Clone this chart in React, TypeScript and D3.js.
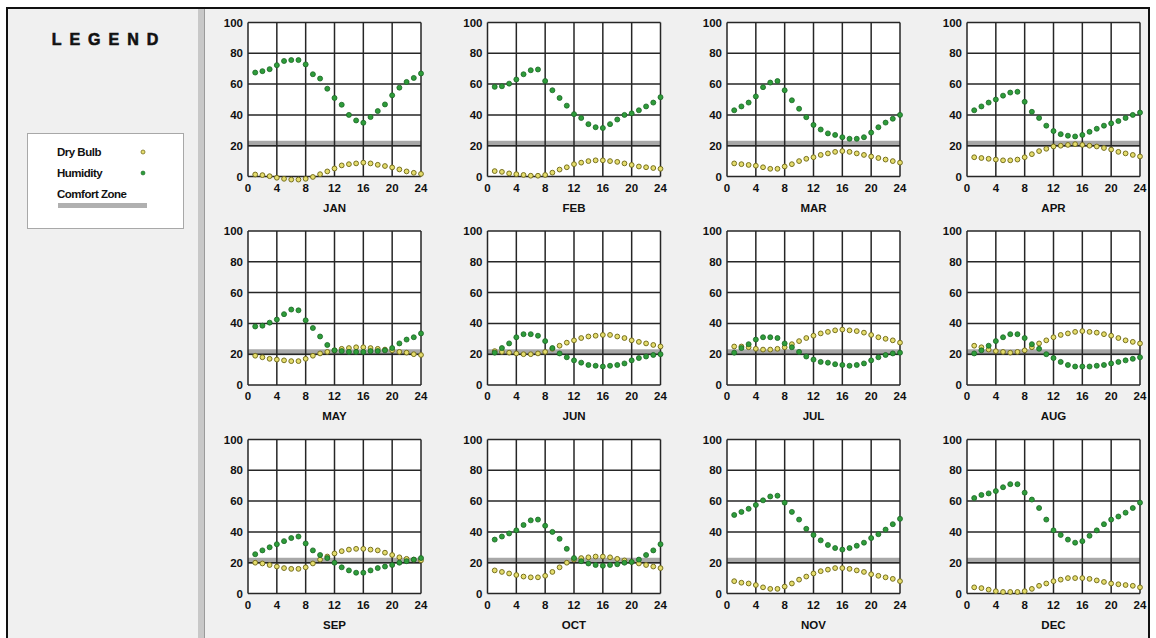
import React from 'react';
import * as d3 from 'd3';

const months = ['JAN', 'FEB', 'MAR', 'APR', 'MAY', 'JUN', 'JUL', 'AUG', 'SEP', 'OCT', 'NOV', 'DEC'];
const hours = [1, 2, 3, 4, 5, 6, 7, 8, 9, 10, 11, 12, 13, 14, 15, 16, 17, 18, 19, 20, 21, 22, 23, 24];
const xTicks = [0, 4, 8, 12, 16, 20, 24];
const yTicks = [0, 20, 40, 60, 80, 100];
const comfortZone = [19.3, 23.2];

const dryBulb: number[][] = [
  [1.3, 0.9, 0.2, -0.8, -1.5, -2, -2, -1.5, -0.3, 1.5, 3.3, 5.2, 7.2, 8, 8.5, 9, 8.5, 7.6, 6.8, 5.9, 4.6, 3.3, 2.4, 1.7],
  [3.5, 3, 2, 1.5, 1, 0.5, 0.5, 1, 2.5, 4.5, 6, 8, 9, 10, 10.5, 10.5, 10, 9.5, 8.5, 7.5, 6.5, 6, 5.5, 5],
  [8.5, 8, 7.5, 7, 6, 5, 5, 6.5, 8, 10, 11.5, 12.5, 14, 15, 16, 16.5, 16, 15, 14, 13, 12, 11, 10, 9],
  [12.5, 12, 11.5, 11, 10.5, 10.5, 11, 12.5, 14.5, 16.5, 18, 19.5, 20, 20.5, 21, 20.5, 20, 19.5, 18.5, 17.5, 16, 15, 14, 13],
  [19, 18, 17, 16.5, 16, 15.5, 15.5, 17, 19, 20.5, 21.5, 22.5, 23.5, 24, 24.5, 24.5, 24, 23.5, 23, 22.5, 21.5, 21, 20, 19.5],
  [22, 21.5, 21, 20.5, 20, 20, 20.5, 21.5, 23.5, 25.5, 27.5, 29, 30.5, 31.5, 32, 32.5, 32.5, 31.5, 30.5, 29, 28, 27, 26, 25],
  [25, 25, 24.5, 23.5, 23, 23, 23.5, 24.5, 26.5, 28.5, 30.5, 32, 33.5, 34.5, 35.5, 36, 35.5, 35, 34, 32.5, 31, 30, 29, 27.5],
  [25.5, 24.5, 23, 22, 21.5, 21, 21.5, 22.5, 24.5, 27, 29, 31, 32.5, 33.5, 34.5, 35, 34.5, 34, 33, 32, 30.5, 29, 28, 27],
  [20, 19.5, 18.5, 17.5, 16.5, 16, 16, 17, 19.5, 22, 24, 26, 27.5, 28.5, 29, 29, 28.5, 28, 26.5, 25, 23.5, 22.5, 22, 21.5],
  [15, 14, 13, 12, 11, 10.5, 10.5, 11.5, 14, 17, 20, 22, 23, 23.5, 24, 24, 23.5, 22.5, 21.5, 20.5, 19.5, 18.5, 17.5, 16.5],
  [8, 7, 6.5, 5.5, 4, 3, 3, 4.5, 6.5, 9, 11, 13, 14.5, 15.5, 16.5, 16.5, 16, 15, 14, 12.5, 11.5, 10.5, 9.5, 8],
  [4, 3.5, 2.5, 1.5, 1, 1, 1, 1.5, 3, 5, 6.5, 8, 9, 10, 10, 10, 9.5, 8.5, 7.5, 6.5, 6, 5.5, 5, 4],
];

const humidity: number[][] = [
  [67.5, 68.4, 69.7, 72.3, 75, 75.6, 75.6, 72.8, 66.4, 63.6, 57, 51, 46.6, 40, 36.4, 34.9, 38.6, 42.5, 46.8, 52.7, 57.7, 61.4, 64, 66.9],
  [58.2, 58.6, 60.3, 63, 66.4, 69, 69.5, 62, 56, 51, 46, 40.5, 38, 34, 32, 31.5, 34, 37, 40, 41, 43, 45.5, 48, 51.5],
  [43, 45.5, 48, 52, 58, 61, 62, 56, 49.5, 44, 38.5, 33.5, 30.5, 28, 27, 25.5, 24.5, 24.5, 25.5, 28.5, 32, 35, 37.5, 40],
  [43, 45.5, 48, 50, 52.5, 54.5, 55, 48.5, 42, 38, 33, 29.5, 27.5, 26.5, 26, 27, 29, 31, 33, 34.5, 36, 38, 40, 41.5],
  [38, 38.5, 40.5, 42.5, 46, 49, 48.5, 42, 37, 31.5, 26, 22.5, 22, 21.5, 21.5, 21.5, 22, 22, 22.5, 24, 27, 29.5, 31, 33.5],
  [21, 24, 27, 31, 33, 33, 32, 28.5, 24, 20.5, 18, 16, 14.5, 13, 12.5, 12, 12.5, 13, 14, 16, 17.5, 18.5, 19.5, 20],
  [21, 24, 26.5, 29.5, 31, 31, 30.5, 27, 24.5, 21.5, 18.5, 16.5, 15, 14.5, 13.5, 13, 12.5, 13, 14, 16, 18, 19.5, 20.5, 21],
  [20.5, 22.5, 25.5, 28.5, 31, 33, 33, 30.5, 26.5, 23.5, 20, 17.5, 15, 13, 12, 12, 12, 12.5, 13, 14, 15, 16, 17, 18],
  [25.5, 28, 30, 32, 34, 36, 37, 32.5, 28, 25, 23, 20, 17, 15, 13.5, 13.5, 15, 16.5, 17.5, 18.5, 20, 21, 22, 23],
  [35, 37, 39, 41, 44.5, 47.5, 48, 44, 40, 35.5, 29, 23, 21, 19.5, 18.5, 18, 18.5, 19, 20, 20.5, 22, 25, 28, 32],
  [51, 53, 55, 57.5, 60.5, 63, 63.5, 59, 53, 48, 42, 38, 34.5, 31.5, 29.5, 28.5, 29.5, 31, 33, 36, 38.5, 41.5, 45, 48.5],
  [62, 64, 65, 66.5, 69, 71, 71, 65.5, 61, 55.5, 48, 41, 38, 35, 33, 34, 37.5, 41, 45, 48, 50, 52.5, 55.5, 59],
];

const FONT = '"Liberation Sans", Arial, sans-serif';
const PW = 173;
const PH = 154;
const colLefts = [248, 487.5, 727, 967];
const rowTops = [22.5, 231, 439.5];

const x = d3.scaleLinear().domain([0, 24]).range([0, PW]);
const y = d3.scaleLinear().domain([0, 100]).range([PH, 0]);

const DRY_FILL = '#e4dc6c';
const DRY_STROKE = '#77701e';
const HUM_FILL = '#2e9c3a';
const HUM_STROKE = '#1a6624';

function Panel({ idx }: { idx: number }) {
  const col = idx % 4;
  const row = Math.floor(idx / 4);
  const tx = colLefts[col];
  const ty = rowTops[row];
  return (
    <g transform={`translate(${tx},${ty})`}>
      <rect x={0} y={0} width={PW} height={PH} fill="#ffffff" />
      <rect
        x={0}
        y={y(comfortZone[1])}
        width={PW}
        height={y(comfortZone[0]) - y(comfortZone[1])}
        fill="#999999"
        opacity={0.85}
      />
      {xTicks.map((t) => (
        <line key={'vx' + t} x1={x(t)} x2={x(t)} y1={0} y2={PH} stroke="#262626" strokeWidth={1.5} />
      ))}
      {yTicks.map((t) => (
        <line key={'hy' + t} x1={0} x2={PW} y1={y(t)} y2={y(t)} stroke="#262626" strokeWidth={1.5} />
      ))}
      {yTicks.map((t) => (
        <text key={'yl' + t} x={-5} y={y(t) + 4} textAnchor="end" fontFamily={FONT} fontWeight="bold" fontSize={11.5} fill="#111">
          {t}
        </text>
      ))}
      {xTicks.map((t) => (
        <text key={'xl' + t} x={x(t)} y={PH + 15} textAnchor="middle" fontFamily={FONT} fontWeight="bold" fontSize={11.5} fill="#111">
          {t}
        </text>
      ))}
      <text x={PW / 2} y={PH + 35} textAnchor="middle" fontFamily={FONT} fontWeight="bold" fontSize={11.5} fill="#111">
        {months[idx]}
      </text>
      {dryBulb[idx].map((v, i) => (
        <circle key={'d' + i} cx={x(hours[i])} cy={y(v)} r={2.4} fill={DRY_FILL} stroke={DRY_STROKE} strokeWidth={1} />
      ))}
      {humidity[idx].map((v, i) => (
        <circle key={'h' + i} cx={x(hours[i])} cy={y(v)} r={2.5} fill={HUM_FILL} stroke={HUM_STROKE} strokeWidth={0.8} />
      ))}
    </g>
  );
}

export default function App() {
  return (
    <div style={{ position: 'absolute', left: 0, top: 0 }}>
      <svg width={1156} height={638} style={{ display: 'block' }}>
        <rect x={0} y={0} width={1156} height={638} fill="#ffffff" />
        <rect x={8} y={9} width={1141} height={629} fill="#f0f0f0" />
        {/* outer frame */}
        <line x1={7} x2={7} y1={8} y2={638} stroke="#111" strokeWidth={2} />
        <line x1={6} x2={1150} y1={8} y2={8} stroke="#111" strokeWidth={2} />
        <line x1={1149} x2={1149} y1={8} y2={638} stroke="#111" strokeWidth={2} />
        {/* separator */}
        <rect x={198} y={9} width={7} height={629} fill="#c8c8c8" />
        <line x1={204.5} x2={204.5} y1={9} y2={638} stroke="#9a9a9a" strokeWidth={1} />
        {/* legend */}
        <text x={109} y={45} textAnchor="middle" fontFamily={FONT} fontWeight="bold" fontSize={16} letterSpacing={8} fill="#111" stroke="#111" strokeWidth={0.6}>
          LEGEND
        </text>
        <rect x={27.5} y={133.5} width={156} height={95} fill="#ffffff" stroke="#a8a8a8" strokeWidth={1} />
        <text x={57} y={156} fontFamily={FONT} fontWeight="bold" fontSize={11.5} letterSpacing={-0.5} fill="#111">
          Dry Bulb
        </text>
        <circle cx={143} cy={152} r={2} fill={DRY_FILL} stroke={DRY_STROKE} strokeWidth={0.8} />
        <text x={57} y={177} fontFamily={FONT} fontWeight="bold" fontSize={11.5} letterSpacing={-0.5} fill="#111">
          Humidity
        </text>
        <circle cx={143} cy={173} r={2} fill={HUM_FILL} stroke={HUM_STROKE} strokeWidth={0.6} />
        <text x={57} y={198} fontFamily={FONT} fontWeight="bold" fontSize={11.5} letterSpacing={-0.5} fill="#111">
          Comfort Zone
        </text>
        <rect x={58} y={203} width={89} height={5} fill="#b0b0b0" />
        {months.map((m, i) => (
          <Panel key={m} idx={i} />
        ))}
      </svg>
    </div>
  );
}
